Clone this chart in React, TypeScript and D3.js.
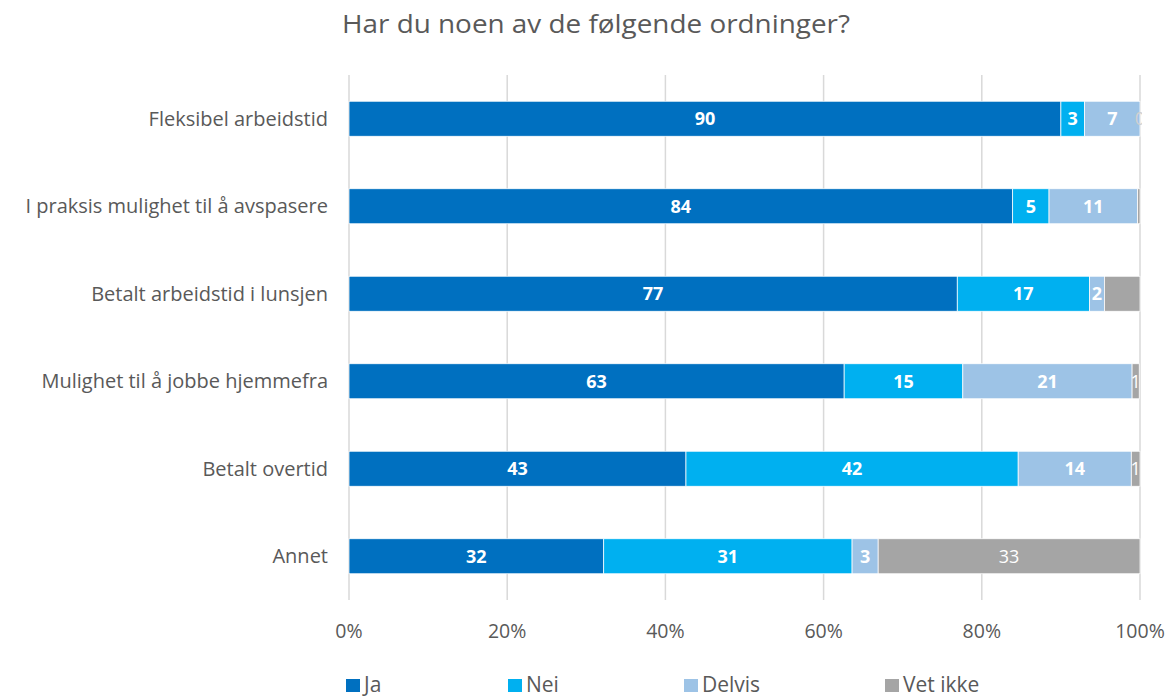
import React from "react";
import * as d3 from "d3";

const title = "Har du noen av de følgende ordninger?";
const categories = [
  "Fleksibel arbeidstid",
  "I praksis mulighet til å avspasere",
  "Betalt arbeidstid i lunsjen",
  "Mulighet til å jobbe hjemmefra",
  "Betalt overtid",
  "Annet",
];
const seriesNames = ["Ja", "Nei", "Delvis", "Vet ikke"];
const ja = [90, 83.9, 76.9, 62.6, 42.6, 32.2];
const nei = [3, 4.6, 16.7, 15.0, 42.0, 31.4];
const delvis = [7, 11.2, 1.9, 21.4, 14.3, 3.3];
const vetIkke = [0, 0.3, 4.5, 0.9, 1.1, 33.1];
// labels shown (null = no label)
const jaLabels = ["90", "84", "77", "63", "43", "32"];
const neiLabels = ["3", "5", "17", "15", "42", "31"];
const delvisLabels = ["7", "11", "2", "21", "14", "3"];
const vetIkkeLabels: (string | null)[] = ["0", null, null, "1", "1", "33"];
const ticks = [0, 20, 40, 60, 80, 100];

const colors = ["#0070C0", "#00B0F0", "#9DC3E6", "#A5A5A5"];
const FONT = "'Open Sans', sans-serif";

export default function App() {
  const W = 1173, H = 697;
  const x0 = 349, x1 = 1140, yTop = 75, yBot = 600;
  const x = d3.scaleLinear().domain([0, 100]).range([x0, x1]);
  const y = d3.scaleBand<string>().domain(categories).range([yTop, yBot]).paddingInner(0.6).paddingOuter(0.3);
  const series = [ja, nei, delvis, vetIkke];
  const labels = [jaLabels, neiLabels, delvisLabels, vetIkkeLabels];
  const rows = categories.map((c, i) => ({ c, vals: series.map((s) => s[i]), labs: labels.map((l) => l[i]) }));
  const stack = d3.stack<any>().keys(["0", "1", "2", "3"]).value((d: any, k) => d.vals[+k]);
  const stacked = stack(rows);
  const legendX = [346, 508, 684, 885];
  return (
    <svg width={W} height={H} style={{ position: "absolute", left: 0, top: 0 }} fontFamily={FONT}>
      <defs>
        <clipPath id="plot">
          <rect x={0} y={0} width={1142} height={H} />
        </clipPath>
      </defs>
      <rect width={W} height={H} fill="#fff" />
      <text x={596} y={33} textAnchor="middle" fontSize={25} fill="#595959" textLength={508} lengthAdjust="spacingAndGlyphs">{title}</text>
      {ticks.map((t) => (
        <g key={t}>
          <line x1={x(t)} x2={x(t)} y1={yTop} y2={yBot} stroke="#D9D9D9" strokeWidth={1.5} />
          <text x={x(t)} y={638} textAnchor="middle" fontSize={19.5} fill="#595959">{t}%</text>
        </g>
      ))}
      {categories.map((c) => (
        <text key={c} x={328} y={(y(c) as number) + y.bandwidth() / 2 + 7} textAnchor="end" fontSize={20} fill="#595959">{c}</text>
      ))}
      {stacked.map((layer, si) => (
        <g key={si}>
          {layer.map((d: any, ri) => {
            const yy = y(categories[ri]) as number;
            const w = x(d[1]) - x(d[0]);
            return w > 0 ? (
              <rect key={ri} x={x(d[0])} y={yy} width={w} height={y.bandwidth()} fill={colors[si]} stroke="#fff" strokeWidth={0.75} />
            ) : null;
          })}
        </g>
      ))}
      <g clipPath="url(#plot)">
        {stacked.map((layer, si) => (
          <g key={si}>
            {layer.map((d: any, ri) => {
              const lab = labels[si][ri];
              if (lab == null) return null;
              const yy = (y(categories[ri]) as number) + y.bandwidth() / 2 + 6.5;
              const cx = (x(d[0]) + x(d[1])) / 2;
              const isGray = si === 3;
              return (
                <text key={ri} x={cx} y={yy} textAnchor="middle" fontSize={18}
                  fontWeight={isGray ? 400 : 700}
                  fill={isGray && d[1] - d[0] === 0 ? "#d0d0d0" : "#fff"}>{lab}</text>
              );
            })}
          </g>
        ))}
      </g>
      {seriesNames.map((s, i) => (
        <g key={s}>
          <rect x={legendX[i]} y={679} width={14} height={13} fill={colors[i]} />
          <text x={legendX[i] + 18} y={692} fontSize={21} fill="#595959">{s}</text>
        </g>
      ))}
    </svg>
  );
}
